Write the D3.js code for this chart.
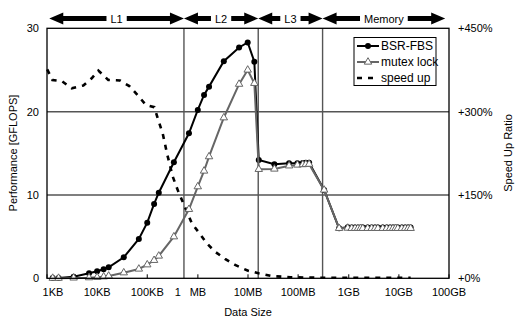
<!DOCTYPE html>
<html><head><meta charset="utf-8">
<script src="https://cdn.jsdelivr.net/npm/d3@7"></script>
<style>
body{margin:0;background:#fff;}
text{font-family:"Liberation Sans",Arial,sans-serif;fill:#000;}
</style></head>
<body><svg id="c" width="516" height="320"></svg>
<script>
// ---- data ----
const sizesKB = [1.3,1.7,3.4,6.9,10,13.5,17,34,68,100,137,170,340,680,1020,1360,1710,3370,6800,10100,13700,16800,34400,67600,99000,127000,146000,170000,338000,673000,1.0e6,1.2e6,1.4e6,1.6e6,1.8e6,2.0e6,2.5e6,3.0e6,3.5e6,4.0e6,5.0e6,6.0e6,7.0e6,8.0e6,9.0e6,1.0e7,1.2e7,1.4e7,1.6e7,1.8e7];
const bsrFbs = [0.05,0.05,0.19,0.6,0.84,1.08,1.32,2.52,4.72,6.67,8.92,10.27,13.92,17.4,20.2,22.0,23.0,26.05,27.7,28.3,26.0,14.2,13.7,13.8,13.8,13.85,13.87,13.87,10.6,6.0,6.12,6.1,6.1,6.08,6.1,6.1,6.1,6.1,6.1,6.1,6.1,6.1,6.1,6.1,6.1,6.1,6.1,6.1,6.1,6.1];
const mutexLock = [0.02,0.02,0.05,0.08,0.12,0.19,0.28,0.67,1.12,1.63,2.16,2.68,4.99,8.28,11.0,12.88,14.6,19.27,23.3,25.0,23.4,13.08,13.12,13.5,13.6,13.65,13.68,13.7,10.6,6.0,6.03,6.0,6.0,6.0,6.0,6.0,6.0,6.0,6.0,6.0,6.0,6.0,6.0,6.0,6.0,6.0,6.0,6.0,6.0,6.0];
const speedSizesKB = [1.01,1.28,1.97,3.11,5.3,7.8,10.6,16.7,28.6,44,66.6,94.4,138,166,203,252,323,417,526,776,1100,1540,2250,3560,5660,10000,16600,30700,71900,282000,1.1e6,4.2e6,1.8e7];
const speedUp = [376,357,355,342,347,360,374,357,356,346,328,312,308,285,261,222,183,156,135,99,81,63,48,35,24,14,9,4,2,1,1,1,1];
const xTickKB = [1,10,100,1024,10240,102400,1048576,10485760,104857600];
const xTickLabels = ["1KB","10KB","100KB","MB","10MB","100MB","1GB","10GB","100GB"];
const yTicks = [0,10,20,30];
const y2Ticks = [0,150,300,450];
const y2TickLabels = ["+0%","+150%","+300%","+450%"];
const regionNames = ["L1","L2","L3","Memory"];
const regionEdgesKB = [1.11,540,16384,315000,8.8e7];
const seriesNames = ["BSR-FBS","mutex lock","speed up"];

// ---- layout ----
const L=47, R=449, T=28.3, B=278.3;
const svg = d3.select("#c");
const x = d3.scaleLog().domain([1,104857600]).range([L,R]);
const y = d3.scaleLinear().domain([0,30]).range([B,T]);
const y2 = d3.scaleLinear().domain([0,450]).range([B,T]);

// grid lines
const g = svg.append("g");
g.selectAll("line.h").data([10,20]).enter().append("line")
  .attr("x1",L).attr("x2",R).attr("y1",d=>y(d)).attr("y2",d=>y(d))
  .attr("stroke","#555").attr("stroke-width",1.5);
g.selectAll("line.v").data(regionEdgesKB.slice(1,4)).enter().append("line")
  .attr("x1",d=>x(d)).attr("x2",d=>x(d)).attr("y1",T).attr("y2",B)
  .attr("stroke","#555").attr("stroke-width",1.4);

// x ticks (inward)
svg.append("g").selectAll("line").data(xTickKB).enter().append("line")
  .attr("x1",d=>x(d)).attr("x2",d=>x(d)).attr("y1",B).attr("y2",B-4)
  .attr("stroke","#000").attr("stroke-width",1);
const xl = svg.append("g").attr("font-size",11).attr("text-anchor","middle");
xTickKB.forEach((d,i)=>{
  let dx = i===0?6:0;
  xl.append("text").attr("x",x(d)+dx).attr("y",296).text(xTickLabels[i]);
  if(i===3) xl.append("text").attr("x",x(d)-20).attr("y",296).text("1");
});
// y labels
svg.append("g").attr("font-size",11).attr("text-anchor","end")
  .selectAll("text").data(yTicks).enter().append("text")
  .attr("x",39).attr("y",d=>y(d)+4).text(d=>d);
svg.append("g").attr("font-size",11).attr("text-anchor","start")
  .selectAll("text").data(y2Ticks).enter().append("text")
  .attr("x",458).attr("y",d=>y2(d)+4).text((d,i)=>y2TickLabels[i]);

// titles
svg.append("text").attr("font-size",11).attr("text-anchor","middle")
  .attr("transform","translate(13,153) rotate(-90)").attr("dy","0.35em").text("Performance [GFLOPS]");
svg.append("text").attr("font-size",11).attr("text-anchor","middle")
  .attr("transform","translate(508,153) rotate(-90)").attr("dy","0.35em").text("Speed Up Ratio");
svg.append("text").attr("font-size",11).attr("text-anchor","middle")
  .attr("x",248).attr("y",316).text("Data Size");

// series
const pts = (xs,ys,sc)=>xs.map((d,i)=>[x(d),sc(ys[i])]);
const line = d3.line();
svg.append("path").attr("d",line(pts(speedSizesKB,speedUp,y2)))
  .attr("fill","none").attr("stroke","#000").attr("stroke-width",2.6).attr("stroke-dasharray","5,6");
svg.append("path").attr("d",line(pts(sizesKB,bsrFbs,y)))
  .attr("fill","none").attr("stroke","#000").attr("stroke-width",2);
svg.append("g").selectAll("circle").data(pts(sizesKB,bsrFbs,y)).enter().append("circle")
  .attr("cx",d=>d[0]).attr("cy",d=>d[1]).attr("r",3).attr("fill","#000");
svg.append("path").attr("d",line(pts(sizesKB,mutexLock,y)))
  .attr("fill","none").attr("stroke","#666").attr("stroke-width",2);
const tri = d3.symbol().type(d3.symbolTriangle).size(24);
svg.append("g").selectAll("path").data(pts(sizesKB,mutexLock,y)).enter().append("path")
  .attr("d",tri).attr("transform",d=>`translate(${d[0]},${d[1]})`)
  .attr("fill","#fff").attr("stroke","#666").attr("stroke-width",1);

// frame
svg.append("rect").attr("x",L).attr("y",T).attr("width",R-L).attr("height",B-T)
  .attr("fill","none").attr("stroke","#000").attr("stroke-width",1.3);

// region arrows
const ay=18.5, hl=14, hh=6, st=2.6;
const ag = svg.append("g");
regionNames.forEach((n,i)=>{
  const x0=x(regionEdgesKB[i]), x1=x(regionEdgesKB[i+1]);
  const p=[[x0,ay],[x0+hl,ay-hh],[x0+hl,ay-st],[x1-hl,ay-st],[x1-hl,ay-hh],[x1,ay],[x1-hl,ay+hh],[x1-hl,ay+st],[x0+hl,ay+st],[x0+hl,ay+hh]];
  ag.append("path").attr("d","M"+p.join("L")+"Z").attr("fill","#000");
  const cx=(x0+x1)/2;
  const t=ag.append("text").attr("x",cx).attr("y",ay+4).attr("font-size",11).attr("text-anchor","middle").text(n);
  const w=t.node().getComputedTextLength();
  ag.insert("rect","text:last-child").attr("x",cx-w/2-4).attr("y",ay-7).attr("width",w+8).attr("height",14).attr("fill","#fff");
});

// legend
const lg = svg.append("g");
lg.append("rect").attr("x",354).attr("y",37.5).attr("width",82).attr("height",48)
  .attr("fill","#fff").attr("stroke","#000").attr("stroke-width",1);
const ly=[46,62,78];
lg.append("line").attr("x1",357).attr("x2",379).attr("y1",ly[0]).attr("y2",ly[0]).attr("stroke","#000").attr("stroke-width",2);
lg.append("circle").attr("cx",368).attr("cy",ly[0]).attr("r",3).attr("fill","#000");
lg.append("line").attr("x1",357).attr("x2",379).attr("y1",ly[1]).attr("y2",ly[1]).attr("stroke","#666").attr("stroke-width",2);
lg.append("path").attr("d",tri).attr("transform",`translate(368,${ly[1]})`).attr("fill","#fff").attr("stroke","#666");
lg.append("line").attr("x1",357).attr("x2",379).attr("y1",ly[2]).attr("y2",ly[2]).attr("stroke","#000").attr("stroke-width",2.6).attr("stroke-dasharray","5,6");
seriesNames.forEach((n,i)=>lg.append("text").attr("x",381).attr("y",ly[i]+4).attr("font-size",12).text(n));
</script></body></html>
